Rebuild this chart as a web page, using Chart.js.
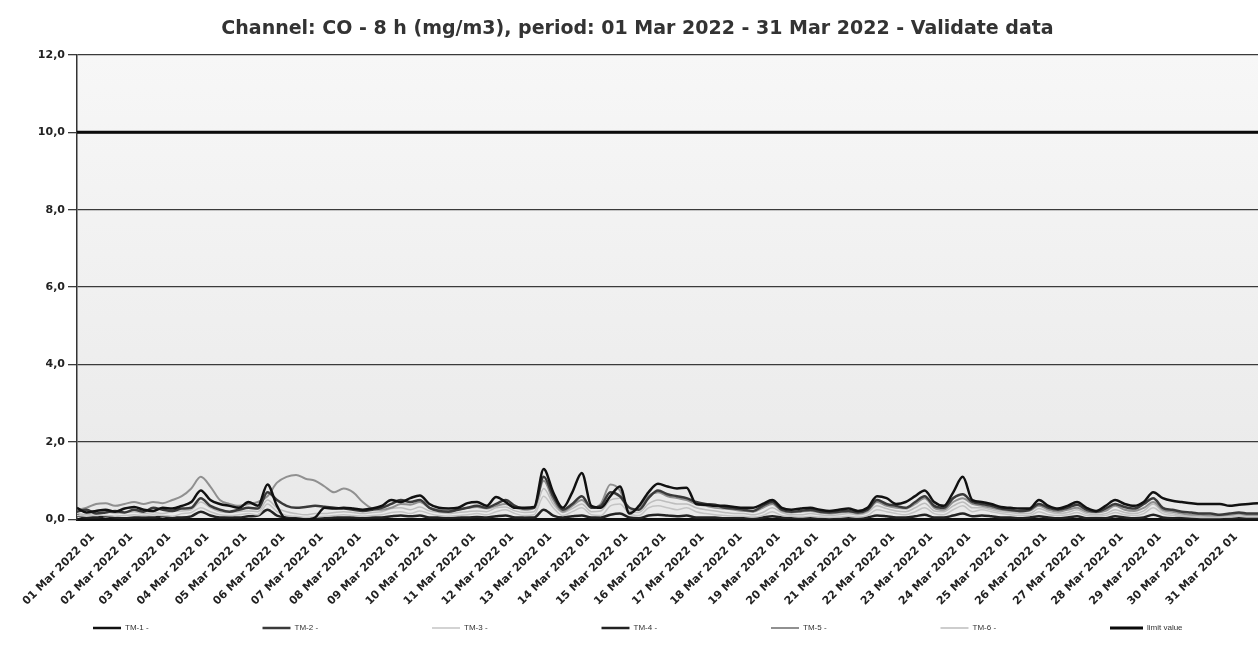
<!DOCTYPE html>
<html>
<head>
<meta charset="utf-8">
<script src="https://cdn.jsdelivr.net/npm/chart.js@4"></script>
<style>
  html, body { margin: 0; padding: 0; background: #fff; }
  #wrap { width: 1258px; height: 662px; }
</style>
</head>
<body>
<div id="wrap"><canvas id="chart"></canvas></div>
<script>
// day labels on the x axis (one per day, 01:00)
const dayLabels = [
  "01 Mar 2022 01", "02 Mar 2022 01", "03 Mar 2022 01", "04 Mar 2022 01", "05 Mar 2022 01",
  "06 Mar 2022 01", "07 Mar 2022 01", "08 Mar 2022 01", "09 Mar 2022 01", "10 Mar 2022 01",
  "11 Mar 2022 01", "12 Mar 2022 01", "13 Mar 2022 01", "14 Mar 2022 01", "15 Mar 2022 01",
  "16 Mar 2022 01", "17 Mar 2022 01", "18 Mar 2022 01", "19 Mar 2022 01", "20 Mar 2022 01",
  "21 Mar 2022 01", "22 Mar 2022 01", "23 Mar 2022 01", "24 Mar 2022 01", "25 Mar 2022 01",
  "26 Mar 2022 01", "27 Mar 2022 01", "28 Mar 2022 01", "29 Mar 2022 01", "30 Mar 2022 01",
  "31 Mar 2022 01"
];

// 8h values, read every 6 hours (4 per day) + closing value
const tm1 = [
  0.30, 0.18, 0.22, 0.25,  0.20, 0.28, 0.32, 0.25,  0.22, 0.30, 0.28, 0.35,  0.45, 0.75, 0.50, 0.40,
  0.35, 0.30, 0.45, 0.35,  0.90, 0.35, 0.00, 0.00,  0.00, 0.05, 0.30, 0.28,  0.30, 0.28, 0.25, 0.28,
  0.35, 0.50, 0.45, 0.55,  0.62, 0.40, 0.30, 0.28,  0.30, 0.42, 0.45, 0.35,  0.58, 0.45, 0.30, 0.30,
  0.32, 1.30, 0.70, 0.30,  0.70, 1.20, 0.35, 0.30,  0.60, 0.85, 0.15, 0.35,  0.70, 0.92, 0.85, 0.80,
  0.82, 0.40, 0.38, 0.35,  0.35, 0.32, 0.30, 0.30,  0.40, 0.50, 0.30, 0.25,  0.28, 0.30, 0.25, 0.22,
  0.25, 0.28, 0.22, 0.30,  0.60, 0.55, 0.40, 0.45,  0.60, 0.75, 0.45, 0.35,  0.70, 1.10, 0.50, 0.45,
  0.40, 0.32, 0.30, 0.28,  0.28, 0.50, 0.35, 0.28,  0.35, 0.45, 0.30, 0.22,  0.35, 0.50, 0.40, 0.35,
  0.45, 0.70, 0.55, 0.48,  0.45, 0.42, 0.40, 0.40,  0.40, 0.35, 0.38, 0.40,  0.42
];
const tm2 = [
  0.20, 0.25, 0.15, 0.18,  0.22, 0.18, 0.25, 0.20,  0.30, 0.25, 0.22, 0.28,  0.30, 0.55, 0.35, 0.25,
  0.20, 0.25, 0.30, 0.28,  0.70, 0.50, 0.35, 0.30,  0.32, 0.35, 0.33, 0.30,  0.28, 0.25, 0.22, 0.25,
  0.30, 0.40, 0.50, 0.45,  0.50, 0.30, 0.22, 0.20,  0.25, 0.30, 0.35, 0.30,  0.40, 0.50, 0.35, 0.28,
  0.30, 1.10, 0.60, 0.25,  0.40, 0.60, 0.30, 0.35,  0.70, 0.60, 0.30, 0.25,  0.55, 0.75, 0.65, 0.60,
  0.55, 0.45, 0.40, 0.38,  0.30, 0.28, 0.25, 0.22,  0.35, 0.45, 0.25, 0.20,  0.22, 0.25, 0.20, 0.18,
  0.20, 0.22, 0.18, 0.25,  0.50, 0.40, 0.35, 0.30,  0.45, 0.60, 0.35, 0.30,  0.55, 0.65, 0.45, 0.40,
  0.35, 0.28, 0.25, 0.22,  0.25, 0.40, 0.30, 0.25,  0.30, 0.38, 0.25, 0.20,  0.28, 0.40, 0.32, 0.28,
  0.40, 0.55, 0.30, 0.25,  0.20, 0.18, 0.15, 0.15,  0.12, 0.15, 0.18, 0.15,  0.15
];
const tm3 = [
  0.10, 0.08, 0.12, 0.10,  0.08, 0.10, 0.12, 0.10,  0.12, 0.10, 0.08, 0.15,  0.18, 0.30, 0.20, 0.12,
  0.10, 0.12, 0.15, 0.12,  0.40, 0.20, 0.10, 0.08,  0.05, 0.06, 0.08, 0.10,  0.12, 0.10, 0.08, 0.10,
  0.12, 0.18, 0.20, 0.15,  0.22, 0.15, 0.10, 0.08,  0.10, 0.12, 0.15, 0.12,  0.20, 0.25, 0.15, 0.10,
  0.12, 0.60, 0.30, 0.10,  0.20, 0.30, 0.12, 0.10,  0.35, 0.40, 0.15, 0.10,  0.30, 0.35, 0.30, 0.25,
  0.30, 0.20, 0.15, 0.12,  0.10, 0.08, 0.08, 0.06,  0.10, 0.20, 0.10, 0.08,  0.06, 0.08, 0.06, 0.05,
  0.06, 0.08, 0.06, 0.10,  0.25, 0.20, 0.15, 0.12,  0.20, 0.30, 0.15, 0.12,  0.25, 0.35, 0.20, 0.25,
  0.20, 0.15, 0.12, 0.10,  0.10, 0.20, 0.12, 0.10,  0.12, 0.18, 0.10, 0.08,  0.10, 0.18, 0.12, 0.10,
  0.15, 0.30, 0.15, 0.10,  0.08, 0.06, 0.05, 0.05,  0.05, 0.06, 0.08, 0.06,  0.06
];
const tm4 = [
  0.10, 0.05, 0.05, 0.08,  0.05, 0.03, 0.05, 0.05,  0.05, 0.08, 0.05, 0.05,  0.08, 0.20, 0.10, 0.05,
  0.05, 0.05, 0.08, 0.10,  0.25, 0.10, 0.05, 0.03,  0.03, 0.02, 0.03, 0.05,  0.05, 0.05, 0.03, 0.05,
  0.05, 0.08, 0.10, 0.08,  0.10, 0.05, 0.05, 0.03,  0.05, 0.05, 0.06, 0.05,  0.08, 0.10, 0.05, 0.05,
  0.05, 0.25, 0.10, 0.05,  0.08, 0.10, 0.05, 0.05,  0.12, 0.15, 0.05, 0.03,  0.10, 0.12, 0.10, 0.08,
  0.10, 0.05, 0.05, 0.05,  0.03, 0.03, 0.03, 0.02,  0.05, 0.08, 0.05, 0.03,  0.03, 0.03, 0.02, 0.02,
  0.02, 0.03, 0.02, 0.05,  0.10, 0.08, 0.05, 0.05,  0.08, 0.12, 0.05, 0.05,  0.10, 0.15, 0.08, 0.10,
  0.08, 0.05, 0.05, 0.03,  0.05, 0.08, 0.05, 0.03,  0.05, 0.08, 0.03, 0.03,  0.03, 0.08, 0.05, 0.03,
  0.05, 0.12, 0.05, 0.03,  0.05, 0.03, 0.03, 0.02,  0.03, 0.02, 0.03, 0.03,  0.03
];
const tm5 = [
  0.25, 0.30, 0.40, 0.42,  0.35, 0.40, 0.45, 0.40,  0.45, 0.42, 0.50, 0.60,  0.80, 1.10, 0.85, 0.50,
  0.40, 0.35, 0.40, 0.45,  0.60, 0.95, 1.10, 1.15,  1.05, 1.00, 0.85, 0.70,  0.80, 0.70, 0.45, 0.28,
  0.25, 0.30, 0.40, 0.38,  0.45, 0.30, 0.25, 0.22,  0.25, 0.30, 0.32, 0.28,  0.35, 0.40, 0.30, 0.25,
  0.30, 1.00, 0.50, 0.20,  0.35, 0.50, 0.30, 0.40,  0.90, 0.75, 0.20, 0.30,  0.60, 0.70, 0.60, 0.55,
  0.50, 0.40, 0.35, 0.30,  0.28, 0.25, 0.22, 0.20,  0.30, 0.40, 0.22, 0.18,  0.20, 0.22, 0.18, 0.15,
  0.18, 0.20, 0.15, 0.22,  0.45, 0.35, 0.30, 0.28,  0.40, 0.55, 0.30, 0.25,  0.45, 0.55, 0.40, 0.35,
  0.30, 0.25, 0.22, 0.20,  0.22, 0.35, 0.25, 0.20,  0.25, 0.30, 0.20, 0.18,  0.22, 0.35, 0.25, 0.22,
  0.30, 0.45, 0.25, 0.20,  0.15, 0.12, 0.12, 0.10,  0.10, 0.12, 0.15, 0.12,  0.12
];
const tm6 = [
  0.15, 0.12, 0.18, 0.20,  0.15, 0.18, 0.20, 0.15,  0.18, 0.15, 0.20, 0.22,  0.25, 0.45, 0.30, 0.20,
  0.18, 0.20, 0.22, 0.20,  0.50, 0.30, 0.20, 0.15,  0.12, 0.15, 0.15, 0.18,  0.20, 0.18, 0.15, 0.18,
  0.20, 0.28, 0.30, 0.25,  0.32, 0.22, 0.18, 0.15,  0.18, 0.20, 0.22, 0.20,  0.30, 0.32, 0.22, 0.18,
  0.20, 0.80, 0.40, 0.18,  0.28, 0.40, 0.20, 0.22,  0.50, 0.55, 0.20, 0.18,  0.40, 0.50, 0.45, 0.40,
  0.40, 0.30, 0.25, 0.22,  0.18, 0.15, 0.15, 0.12,  0.18, 0.30, 0.18, 0.12,  0.12, 0.15, 0.12, 0.10,
  0.12, 0.15, 0.12, 0.18,  0.35, 0.28, 0.22, 0.20,  0.30, 0.42, 0.22, 0.20,  0.35, 0.45, 0.30, 0.30,
  0.25, 0.20, 0.18, 0.15,  0.15, 0.28, 0.20, 0.15,  0.18, 0.25, 0.15, 0.12,  0.15, 0.25, 0.18, 0.15,
  0.22, 0.40, 0.20, 0.15,  0.10, 0.08, 0.08, 0.08,  0.08, 0.10, 0.12, 0.10,  0.10
];
const limitValue = 10.0;
const yTicks = [0, 2, 4, 6, 8, 10, 12];

const stepsPerDay = 4;
const toPoints = (arr) => arr.map((v, i) => ({ x: i / stepsPerDay, y: v }));
const lastDay = dayLabels.length;

// light grey panel behind the plot
const plotBackground = {
  id: "plotBackground",
  beforeDraw(chart) {
    const { ctx, chartArea: a } = chart;
    const g = ctx.createLinearGradient(0, a.top, 0, a.bottom);
    g.addColorStop(0, "#f7f7f7");
    g.addColorStop(1, "#e9e9e9");
    ctx.save();
    ctx.fillStyle = g;
    ctx.fillRect(a.left, a.top, a.right - a.left, a.bottom - a.top);
    ctx.restore();
  },
};

// legend row spread evenly under the chart, like the original report
const spreadLegend = {
  id: "spreadLegend",
  afterDraw(chart) {
    const ctx = chart.ctx;
    const y = chart.height - 34;
    const startX = 93;
    const step = 169.5;
    ctx.save();
    ctx.font = "8px 'Liberation Sans'";
    ctx.textBaseline = "middle";
    ctx.fillStyle = "#333";
    chart.data.datasets.forEach((ds, i) => {
      const x = startX + i * step;
      ctx.strokeStyle = ds.borderColor;
      ctx.lineWidth = ds.borderWidth;
      ctx.beginPath();
      ctx.moveTo(x, y);
      ctx.lineTo(x + (i === 6 ? 33 : 28), y);
      ctx.stroke();
      ctx.fillText(ds.label, x + (i === 6 ? 37 : 32), y);
    });
    ctx.restore();
  },
};

const line = (label, data, color, width) => ({
  label: label,
  data: toPoints(data),
  borderColor: color,
  backgroundColor: color,
  borderWidth: width,
  pointRadius: 0,
  cubicInterpolationMode: "monotone",
  fill: false,
});

const ctx = document.getElementById("chart").getContext("2d");
const chart = new Chart(ctx, {
  type: "line",
  data: {
    datasets: [
      line("TM-1 -", tm1, "#111111", 2.5),
      line("TM-2 -", tm2, "#3a3a3a", 2.5),
      line("TM-3 -", tm3, "#c4c4c4", 1.5),
      line("TM-4 -", tm4, "#222222", 2.5),
      line("TM-5 -", tm5, "#909090", 2),
      line("TM-6 -", tm6, "#bdbdbd", 1.5),
      {
        label: "limit value",
        data: [{ x: 0, y: limitValue }, { x: lastDay, y: limitValue }],
        borderColor: "#0a0a0a",
        backgroundColor: "#0a0a0a",
        borderWidth: 3,
        pointRadius: 0,
        fill: false,
      },
    ],
  },
  options: {
    responsive: true,
    maintainAspectRatio: false,
    animation: false,
    layout: { padding: { left: 17, right: 0, top: 0, bottom: 51 } },
    plugins: {
      title: {
        display: true,
        text: "Channel: CO - 8 h (mg/m3), period: 01 Mar 2022 - 31 Mar 2022 - Validate data",
        color: "#333",
        font: { family: "DejaVu Sans", size: 19, weight: "bold" },
        padding: { top: 18, bottom: 14 },
      },
      legend: { display: false },
      tooltip: { enabled: false },
    },
    scales: {
      x: {
        type: "linear",
        min: 0,
        max: lastDay,
        afterBuildTicks: (scale) => {
          scale.ticks = dayLabels.map((_, i) => ({ value: i }));
        },
        ticks: {
          autoSkip: false,
          maxRotation: 45,
          minRotation: 45,
          labelOffset: 16,
          color: "#222",
          font: { family: "DejaVu Sans", size: 11, weight: "bold" },
          callback: (v) => dayLabels[v],
        },
        grid: { display: false },
        border: { color: "#111", width: 3 },
      },
      y: {
        min: 0,
        max: 12,
        afterBuildTicks: (scale) => {
          scale.ticks = yTicks.map((v) => ({ value: v }));
        },
        afterFit: (scale) => {
          scale.width = 60;
        },
        ticks: {
          color: "#222",
          padding: 3,
          font: { family: "DejaVu Sans", size: 11, weight: "bold" },
          callback: (v) => v.toFixed(1).replace(".", ","),
        },
        grid: { color: "#3a3a3a", lineWidth: 1.3, tickLength: 9 },
        border: { color: "#333", width: 1.5 },
      },
    },
  },
  plugins: [plotBackground, spreadLegend],
});
</script>
</body>
</html>
